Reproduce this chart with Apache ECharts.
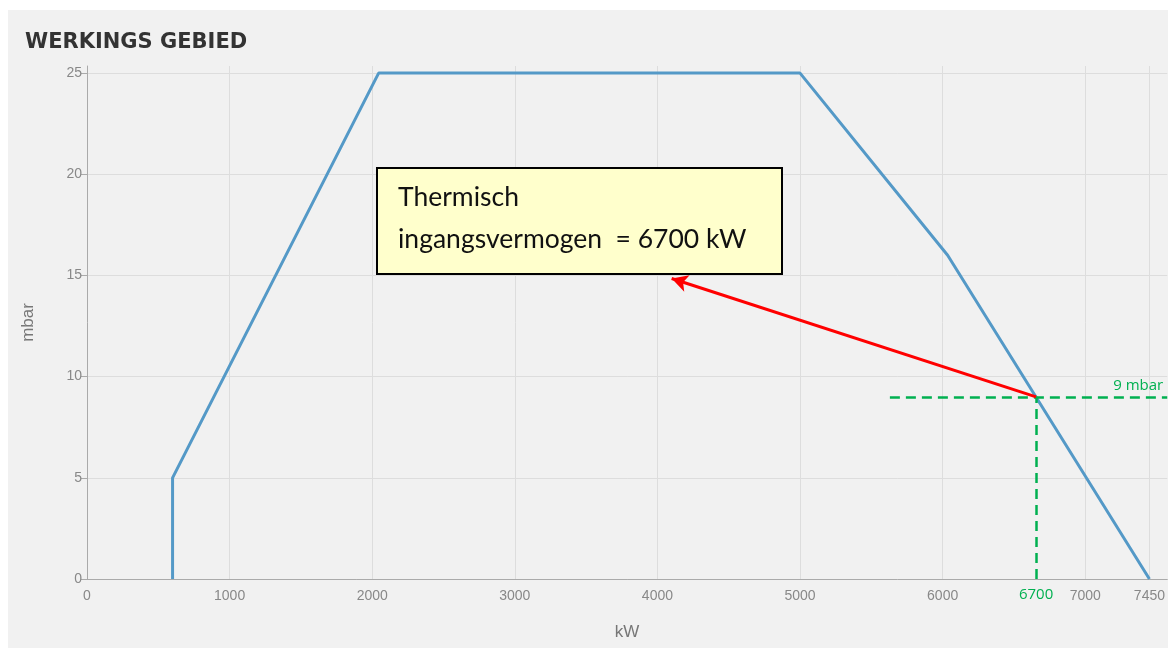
<!DOCTYPE html>
<html>
<head>
<meta charset="utf-8">
<script src="https://cdn.jsdelivr.net/npm/echarts@6/dist/echarts.min.js"></script>
<style>
  html, body { margin: 0; padding: 0; background: #ffffff; }
  #panel { position: absolute; left: 8px; top: 10px; width: 1160px; height: 638px; background: #f1f1f1; }
  #chart { width: 1160px; height: 638px; }
</style>
</head>
<body>
<div id="panel"><div id="chart"></div></div>
<script>
// werkgebied (kW, mbar)
const powerKw = [600, 600, 2045, 5000, 6035, 7450]
const pressureMbar = [0, 5, 25, 25, 16, 0]
const xTicks = [0, 1000, 2000, 3000, 4000, 5000, 6000, 7000, 7450]
const yTicks = [0, 5, 10, 15, 20, 25]
// werkpunt
const pointKw = 6655
const pointMbar = 9
const pointKwLabel = '6700'
const pointMbarLabel = '9 mbar'
const hLineStartKw = 5630
const arrowTip = [4100, 14.85]
const boxLines = ['Thermisch', 'ingangsvermogen  = 6700 kW']

const green = '#00b050'
const myChart = echarts.init(document.getElementById('chart'))

const option = {
  backgroundColor: '#f1f1f1',
  animation: false,
  title: {
    text: 'WERKINGS GEBIED',
    left: 12,
    top: 17,
    textStyle: { color: '#333333', fontSize: 21, fontWeight: 'bold', fontFamily: 'DejaVu Sans' }
  },
  grid: { left: 79, right: 0, top: 56, bottom: 69 },
  xAxis: {
    type: 'value',
    min: 0,
    max: 7575,
    name: 'kW',
    nameLocation: 'middle',
    nameGap: 45,
    nameTextStyle: { color: '#777', fontSize: 17, fontFamily: 'Liberation Sans' },
    axisLine: { lineStyle: { color: '#aaaaaa' } },
    axisTick: { show: false, customValues: xTicks },
    axisLabel: {
      customValues: xTicks, color: '#888', fontSize: 14, fontFamily: 'Liberation Sans', margin: 10,
      formatter: function(v) { return String(v) }
    },
    splitLine: { show: true, lineStyle: { color: '#dddddd' } }
  },
  yAxis: {
    type: 'value',
    min: 0,
    max: 25.35,
    name: 'mbar',
    nameLocation: 'middle',
    nameGap: 50,
    nameTextStyle: { color: '#777', fontSize: 17, fontFamily: 'Liberation Sans' },
    axisLine: { show: true, lineStyle: { color: '#aaaaaa' } },
    axisTick: { show: true, length: 6, customValues: yTicks, lineStyle: { color: '#aaaaaa' } },
    axisLabel: {
      customValues: yTicks, color: '#888', fontSize: 14, fontFamily: 'Liberation Sans', margin: 5,
      formatter: function(v) { return String(v) }
    },
    splitLine: { show: true, lineStyle: { color: '#dddddd' } }
  },
  series: [
    {
      type: 'line',
      data: powerKw.map((x, i) => [x, pressureMbar[i]]),
      symbol: 'none',
      lineStyle: { color: '#5499c7', width: 3 },
      z: 3
    },
    {
      type: 'line',
      data: [],
      markLine: {
        silent: true,
        symbol: 'none',
        lineStyle: { color: green, type: [10, 6], width: 2.5 },
        data: [
          [
            { coord: [hLineStartKw, pointMbar] },
            {
              coord: [7575, pointMbar],
              label: {
                show: true, position: 'insideEndTop', formatter: pointMbarLabel,
                color: green, fontSize: 15, fontFamily: 'Open Sans', distance: 4
              }
            }
          ],
          [
            {
              coord: [pointKw, 0],
              label: {
                show: true, position: 'start', formatter: pointKwLabel,
                color: green, fontSize: 15, fontFamily: 'Open Sans', distance: 8
              }
            },
            { coord: [pointKw, pointMbar] }
          ]
        ]
      },
      z: 4
    },
    {
      type: 'line',
      data: [],
      markLine: {
        silent: true,
        symbol: ['none', 'arrow'],
        symbolSize: [13, 16],
        lineStyle: { color: '#ff0000', type: 'solid', width: 3 },
        label: { show: false },
        data: [[{ coord: [pointKw, pointMbar] }, { coord: arrowTip }]]
      },
      z: 5
    }
  ],
  graphic: [
    {
      type: 'group',
      left: 368,
      top: 157,
      z: 100,
      children: [
        {
          type: 'rect',
          z: 100,
          shape: { x: 0, y: 0, width: 405, height: 106 },
          style: { fill: '#ffffcc', stroke: '#000000', lineWidth: 2 }
        },
        {
          type: 'text',
          z: 101,
          x: 21, y: 16,
          style: { text: boxLines[0], fontSize: 26.5, fontFamily: 'Lato', fill: '#111111' }
        },
        {
          type: 'text',
          z: 101,
          x: 21, y: 58,
          style: { text: boxLines[1], fontSize: 26.5, fontFamily: 'Lato', fill: '#111111' }
        }
      ]
    }
  ]
}

myChart.setOption(option)
window.addEventListener('resize', function() {
  myChart.resize()
})
</script>
</body>
</html>
